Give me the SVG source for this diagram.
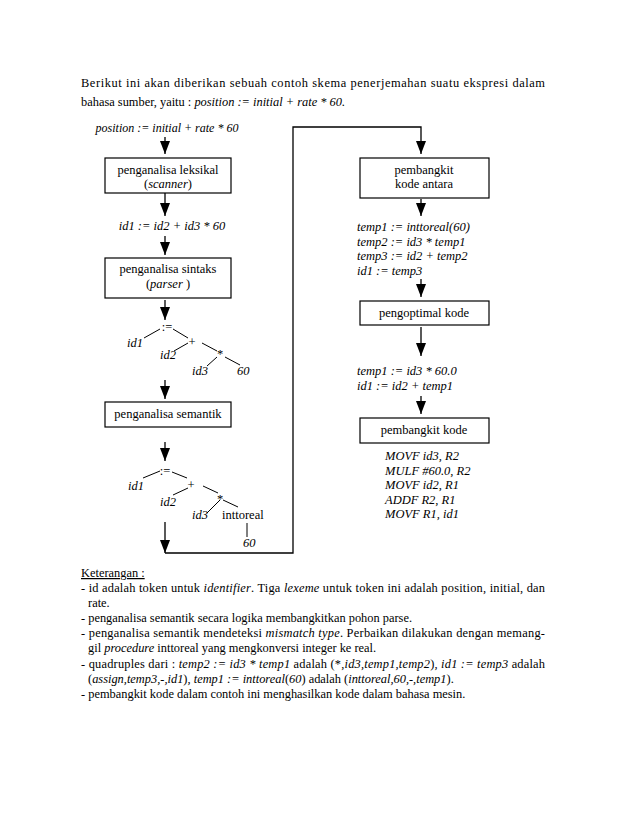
<svg xmlns="http://www.w3.org/2000/svg" width="638" height="826" viewBox="0 0 638 826">
<defs>
<marker id="dn" markerWidth="10" markerHeight="13" refX="5" refY="13" orient="0" markerUnits="userSpaceOnUse" viewBox="0 0 10 13">
<path d="M0,0 L10,0 L5,13 Z" fill="#000"/>
</marker>
</defs>
<style>
text{font-family:"Liberation Serif","Times New Roman",serif;fill:#000}
.b{font-size:12.4px}
.d{font-size:12.5px}
.i{font-style:italic}
.c{text-anchor:middle}
.box{fill:#fff;stroke:#000;stroke-width:1.2}
.ln{stroke:#000;stroke-width:1;fill:none}
.ar{stroke:#000;stroke-width:1.3;fill:none}
</style>
<rect width="638" height="826" fill="#fff"/>

<g id="intro" class="b">
<text x="81" y="87" textLength="464" lengthAdjust="spacing">Berikut ini akan diberikan sebuah contoh skema penerjemahan suatu ekspresi dalam</text>
<text x="81" y="106">bahasa sumber, yaitu : <tspan class="i">position := initial + rate * 60.</tspan></text>
</g>

<g id="connectors">
<line class="ar" x1="165" y1="137" x2="165" y2="154" marker-end="url(#dn)"/>
<line class="ar" x1="165" y1="193" x2="165" y2="216" marker-end="url(#dn)"/>
<line class="ar" x1="165" y1="236" x2="165" y2="255" marker-end="url(#dn)"/>
<line class="ar" x1="165" y1="300" x2="165" y2="320" marker-end="url(#dn)"/>
<line class="ar" x1="165" y1="380" x2="165" y2="399" marker-end="url(#dn)"/>
<line class="ar" x1="165" y1="442" x2="165" y2="461" marker-end="url(#dn)"/>
<line class="ar" x1="165" y1="522" x2="165" y2="553" marker-end="url(#dn)"/>
<polyline class="ar" points="165,553 293,553 293,127 421,127 421,154" marker-end="url(#dn)"/>
<line class="ar" x1="421" y1="199" x2="421" y2="216" marker-end="url(#dn)"/>
<line class="ar" x1="421" y1="279" x2="421" y2="297" marker-end="url(#dn)"/>
<line class="ar" x1="421" y1="327" x2="421" y2="356" marker-end="url(#dn)"/>
<line class="ar" x1="421" y1="396" x2="421" y2="414" marker-end="url(#dn)"/>
</g>

<g id="source" class="d">
<text x="167" y="132" class="c i" style="font-size:12px">position := initial + rate * 60</text>
</g>

<g id="leksikal" class="d">
<rect class="box" x="105" y="158" width="126" height="35"/>
<text x="168" y="174" class="c">penganalisa leksikal</text>
<text x="168" y="188" class="c">(<tspan class="i">scanner</tspan>)</text>
</g>

<g id="tokens" class="d">
<text x="172" y="230" class="c i">id1 :=  id2 +  id3 * 60</text>
</g>

<g id="sintaks" class="d">
<rect class="box" x="105" y="258" width="126" height="40"/>
<text x="168" y="273" class="c">penganalisa sintaks</text>
<text x="168" y="288" class="c">(<tspan class="i">parser</tspan> )</text>
</g>

<g id="tree1" class="d">
<text x="167" y="331" class="c">:=</text>
<text x="127" y="347" class="i">id1</text>
<text x="192" y="346" class="c">+</text>
<text x="160" y="359" class="i">id2</text>
<text x="220" y="358" class="c">*</text>
<text x="192" y="375" class="i">id3</text>
<text x="237" y="375" class="i">60</text>
<line class="ln" x1="144" y1="338" x2="160" y2="329"/>
<line class="ln" x1="173" y1="329" x2="188" y2="338"/>
<line class="ln" x1="174" y1="351" x2="188" y2="343"/>
<line class="ln" x1="202" y1="343" x2="217" y2="351"/>
<line class="ln" x1="207" y1="366" x2="217" y2="357"/>
<line class="ln" x1="225" y1="357" x2="240" y2="365"/>
</g>

<g id="semantik" class="d">
<rect class="box" x="105" y="402" width="126" height="25"/>
<text x="168" y="418" class="c">penganalisa semantik</text>
</g>

<g id="tree2" class="d">
<text x="165" y="475" class="c">:=</text>
<text x="128" y="490" class="i">id1</text>
<text x="191" y="489" class="c">+</text>
<text x="160" y="506" class="i">id2</text>
<text x="220" y="503" class="c">*</text>
<text x="192" y="519" class="i">id3</text>
<text x="222" y="519">inttoreal</text>
<text x="243" y="547" class="i">60</text>
<line class="ln" x1="143" y1="478" x2="160" y2="471"/>
<line class="ln" x1="172" y1="472" x2="187" y2="478"/>
<line class="ln" x1="173" y1="495" x2="188" y2="488"/>
<line class="ln" x1="203" y1="486" x2="218" y2="493"/>
<line class="ln" x1="207" y1="513" x2="220" y2="500"/>
<line class="ln" x1="223" y1="500" x2="238" y2="507"/>
<line class="ln" x1="247" y1="523" x2="247" y2="537"/>
</g>

<g id="antara" class="d">
<rect class="box" x="360" y="158" width="129" height="40"/>
<text x="424" y="174" class="c">pembangkit</text>
<text x="424" y="188" class="c">kode antara</text>
</g>

<g id="intermediate" class="d i">
<text x="357" y="231">temp1 := inttoreal(60)</text>
<text x="357" y="245.5">temp2 := id3 * temp1</text>
<text x="357" y="260">temp3 := id2 + temp2</text>
<text x="357" y="274.5">id1 := temp3</text>
</g>

<g id="optimal" class="d">
<rect class="box" x="360" y="301" width="129" height="24"/>
<text x="424" y="317" class="c">pengoptimal kode</text>
</g>

<g id="optimized" class="d i">
<text x="357" y="375">temp1 := id3 * 60.0</text>
<text x="357" y="390">id1 := id2 + temp1</text>
</g>

<g id="codegen" class="d">
<rect class="box" x="360" y="418" width="129" height="25"/>
<text x="424" y="434" class="c">pembangkit kode</text>
</g>

<g id="code" class="d i">
<text x="385" y="460">MOVF id3, R2</text>
<text x="385" y="474.5">MULF #60.0, R2</text>
<text x="385" y="489">MOVF id2, R1</text>
<text x="385" y="503.5">ADDF R2, R1</text>
<text x="385" y="518">MOVF R1, id1</text>
</g>

<g id="keterangan" class="b">
<text x="81" y="577" text-decoration="underline">Keterangan :</text>
<text x="81" y="592" textLength="464" lengthAdjust="spacing">- id adalah token untuk <tspan class="i">identifier</tspan>. Tiga <tspan class="i">lexeme</tspan> untuk token ini adalah position, initial, dan</text>
<text x="88" y="607">rate.</text>
<text x="81" y="622">- penganalisa semantik secara logika membangkitkan pohon parse.</text>
<text x="81" y="637" textLength="464" lengthAdjust="spacing">- penganalisa semantik mendeteksi <tspan class="i">mismatch type</tspan>. Perbaikan dilakukan dengan memang-</text>
<text x="88" y="652">gil <tspan class="i">procedure</tspan> inttoreal yang mengkonversi integer ke real.</text>
<text x="81" y="668" textLength="464" lengthAdjust="spacing">- quadruples dari : <tspan class="i">temp2 := id3 * temp1</tspan> adalah (*,<tspan class="i">id3,temp1,temp2</tspan>), <tspan class="i">id1 := temp3</tspan> adalah</text>
<text x="88" y="683">(<tspan class="i">assign,temp3,-,id1</tspan>), <tspan class="i">temp1 := inttoreal</tspan>(<tspan class="i">60</tspan>) adalah (<tspan class="i">inttoreal,60,-,temp1</tspan>).</text>
<text x="81" y="698">- pembangkit kode dalam contoh ini menghasilkan kode dalam bahasa mesin.</text>
</g>
</svg>
